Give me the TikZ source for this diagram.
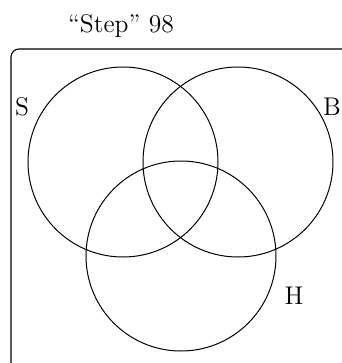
\documentclass[tikz,border=0pt]{standalone}
\usepackage{tikz}

\tikzset{
  setcirc/.style={draw, circle, minimum size=85.5pt, inner sep=0pt, line width=0.45pt},
  setlabel/.style={inner sep=0pt, font=\fontsize{11.5}{13}\selectfont}
}

\begin{document}
\begin{tikzpicture}[x=0.45pt, y=-0.45pt]
\useasboundingbox (0,0) rectangle (342,363);
\clip (0,0) rectangle (342,363);

% Title
\node[setlabel] (title) at (121,26) {``Step'' 98};

% Universe frame
\draw[line width=0.5pt, rounded corners=3.6pt] (11,49) rectangle (380,400);

% Sets
\node[setcirc] (S) at (123,162) {};
\node[setcirc] (B) at (238,162) {};
\node[setcirc] (H) at (181,256) {};

% Set names
\node[setlabel] (labS) at (22,107) {S};
\node[setlabel] (labB) at (332,107) {B};
\node[setlabel] (labH) at (294,296) {H};

\end{tikzpicture}
\end{document}
